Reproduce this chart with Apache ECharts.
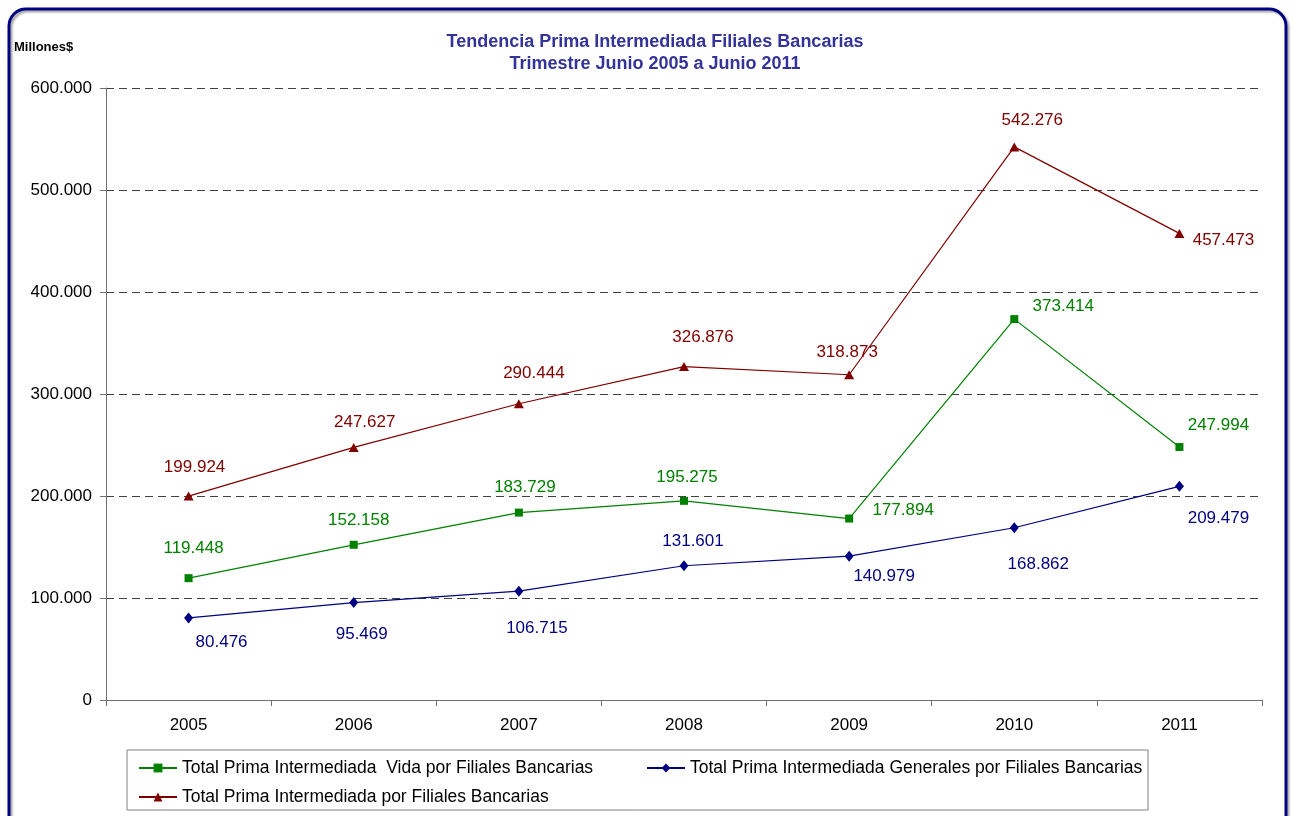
<!DOCTYPE html>
<html>
<head>
<meta charset="utf-8">
<style>
  html, body { margin: 0; padding: 0; background: #fff; }
  #chart { width: 1293px; height: 816px; }
</style>
<script src="https://cdn.jsdelivr.net/npm/echarts@6/dist/echarts.min.js"></script>
</head>
<body>
<div id="chart"></div>
<script>
// data (millones $)
var years = ['2005', '2006', '2007', '2008', '2009', '2010', '2011'];
var vida = [119448, 152158, 183729, 195275, 177894, 373414, 247994];
var generales = [80476, 95469, 106715, 131601, 140979, 168862, 209479];
var total = [199924, 247627, 290444, 326876, 318873, 542276, 457473];
var names = [
  'Total Prima Intermediada  Vida por Filiales Bancarias',
  'Total Prima Intermediada Generales por Filiales Bancarias',
  'Total Prima Intermediada por Filiales Bancarias'
];

// label placement per point: [dx, dy] from the marker
var vidaOff = [[5, -30], [5, -24], [6, -25], [3, -24], [54, -8], [49, -13], [39, -22]];
var genOff = [[33, 24], [8, 32], [18, 37], [9, -24], [35, 20], [24, 37], [39, 32]];
var totOff = [[6, -29], [11, -25], [15, -30], [19, -29], [-2, -22], [18, -27], [44, 7]];

var font = 'Liberation Sans, Arial';

function fmt(v) {
  return String(v).replace(/\B(?=(\d{3})+(?!\d))/g, '.');
}

function build(vals, offs, color) {
  return vals.map(function (v, i) {
    return {
      value: v,
      label: { show: true, position: 'inside', offset: offs[i], color: color,
               fontSize: 17, fontFamily: font, formatter: function (p) { return fmt(p.value); } }
    };
  });
}

var legendText = { color: '#000', fontSize: 17.5, fontFamily: font };

var chart = echarts.init(document.getElementById('chart'));
chart.setOption({
  backgroundColor: '#fff',
  animation: false,
  title: {
    text: 'Tendencia Prima Intermediada Filiales Bancarias\nTrimestre Junio 2005 a Junio 2011',
    left: 650,
    textAlign: 'center',
    top: 26,
    textStyle: { color: '#333399', fontFamily: font, fontWeight: 'bold', fontSize: 18, lineHeight: 22 }
  },
  graphic: [
    { type: 'rect', shape: { x: 9, y: 9, width: 1277, height: 830, r: 17 },
      style: { fill: 'none', stroke: '#000080', lineWidth: 3, shadowColor: 'rgba(0,0,0,0.35)', shadowOffsetX: 2, shadowOffsetY: 2, shadowBlur: 2 } },
    { type: 'text', left: 14, top: 41,
      style: { text: 'Millones$', fill: '#000', font: 'bold 13px "Liberation Sans", Arial' } },
    { type: 'rect', shape: { x: 127, y: 750, width: 1021, height: 60 },
      style: { fill: '#fff', stroke: '#808080', lineWidth: 1 }, z: 0 }
  ],
  color: ['#008000', '#000080', '#800000'],
  legend: [
    { data: [names[0]], left: 133, top: 754, itemWidth: 38, itemHeight: 11, itemGap: 4, textStyle: legendText, z: 5 },
    { data: [names[1]], left: 641, top: 754, itemWidth: 38, itemHeight: 11, itemGap: 4, textStyle: legendText, z: 5 },
    { data: [names[2]], left: 133, top: 783, itemWidth: 38, itemHeight: 11, itemGap: 4, textStyle: legendText, z: 5 }
  ],
  grid: { left: 106, right: 31, top: 88, bottom: 116, containLabel: false },
  xAxis: {
    type: 'category',
    data: years,
    boundaryGap: true,
    axisLine: { show: true, lineStyle: { color: '#707070', width: 1 } },
    axisTick: { show: true, length: 6, lineStyle: { color: '#707070' } },
    axisLabel: { color: '#000', fontSize: 17, fontFamily: font, margin: 17 },
    splitLine: { show: false }
  },
  yAxis: {
    type: 'value',
    min: 0, max: 600000, interval: 100000,
    axisLine: { show: true, lineStyle: { color: '#707070', width: 1 } },
    axisTick: { show: true, length: 6, lineStyle: { color: '#707070' } },
    axisLabel: { color: '#000', fontSize: 17, fontFamily: font, margin: 14, formatter: fmt },
    splitLine: { show: true, lineStyle: { color: '#404040', type: [8, 5], width: 1 } }
  },
  series: [
    { name: names[0], type: 'line', data: build(vida, vidaOff, '#008000'),
      symbol: 'rect', symbolSize: 8, lineStyle: { width: 1.2, color: '#008000' }, itemStyle: { color: '#008000' } },
    { name: names[1], type: 'line', data: build(generales, genOff, '#000080'),
      symbol: 'diamond', symbolSize: [9, 11], lineStyle: { width: 1.2, color: '#000080' }, itemStyle: { color: '#000080' } },
    { name: names[2], type: 'line', data: build(total, totOff, '#800000'),
      symbol: 'triangle', symbolSize: [10, 9], lineStyle: { width: 1.2, color: '#800000' }, itemStyle: { color: '#800000' } }
  ]
});
</script>
</body>
</html>
